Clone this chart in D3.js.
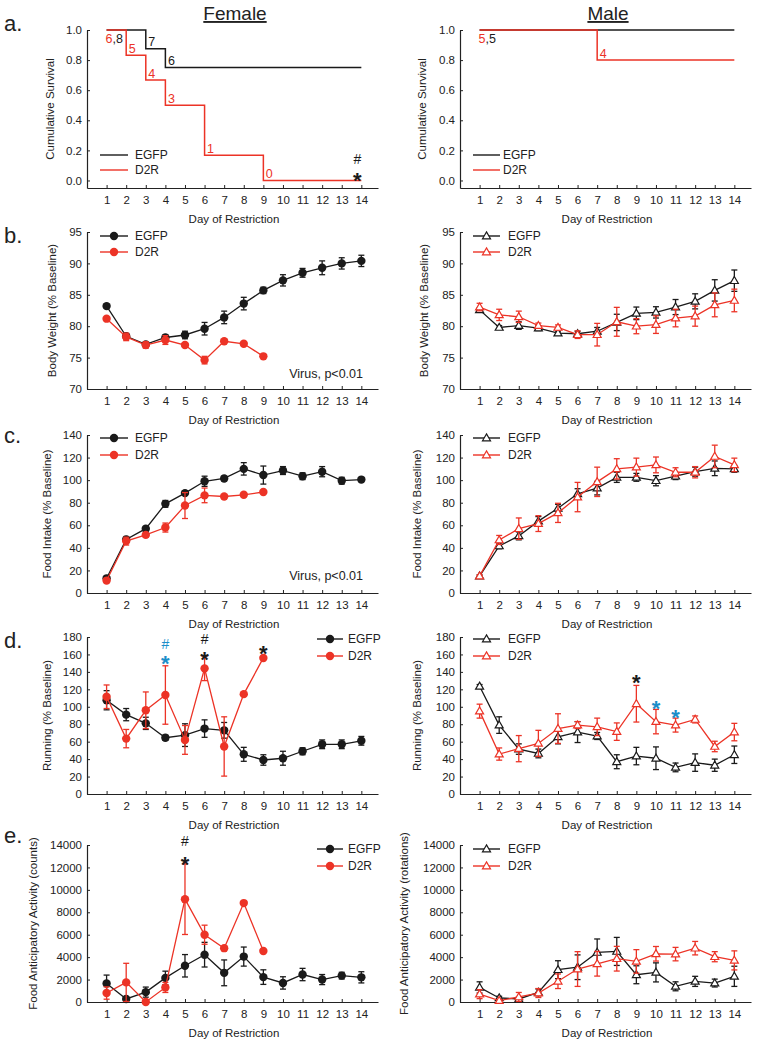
<!DOCTYPE html>
<html><head><meta charset="utf-8">
<script src="https://cdn.jsdelivr.net/npm/d3@7"></script>
<style>
body{margin:0;background:#fff}
svg{display:block}
text{font-family:"Liberation Sans",Arial,sans-serif}
</style>
</head><body>
<svg id="chart" width="771" height="1050"></svg>
<script>
// ---------------- DATA ----------------
const days = [1,2,3,4,5,6,7,8,9,10,11,12,13,14];
const groups = ["EGFP","D2R"];
const sexes = ["Female","Male"];
const xTitle = "Day of Restriction";

// a. Cumulative survival (value per day, step after)
const survFemaleEGFP = [1,1,0.875,0.75,0.75,0.75,0.75,0.75,0.75,0.75,0.75,0.75,0.75,0.75];
const survFemaleD2R  = [1,0.833,0.667,0.5,0.5,0.167,0.167,0.167,0,0,0,0,0,0];
const survMaleEGFP   = [1,1,1,1,1,1,1,1,1,1,1,1,1,1];
const survMaleD2R    = [1,1,1,1,1,1,0.8,0.8,0.8,0.8,0.8,0.8,0.8,0.8];
const survTicks = [0,0.2,0.4,0.6,0.8,1.0];
// n labels: [day, value, text, group, placeBelow]
const survLabelsFemale = [
  [1,1,"6","D2R",true],[1,1,",8","EGFP",true],
  [2,0.833,"5","D2R",false],[3,0.875,"7","EGFP",false],
  [3,0.667,"4","D2R",false],[4,0.75,"6","EGFP",false],
  [4,0.5,"3","D2R",false],[6,0.167,"1","D2R",false],[9,0,"0","D2R",false]
];
const survLabelsMale = [
  [1,1,"5","D2R",true],[1,1,",5","EGFP",true],[7,0.8,"4","D2R",false]
];

// b. Body weight (% baseline)
const bwTicks = [70,75,80,85,90,95];
const bwFemaleEGFP    = [83.2,78.4,77.1,78.2,78.6,79.6,81.4,83.6,85.7,87.3,88.5,89.3,90.0,90.4];
const bwFemaleEGFPsem = [0.3,0.3,0.3,0.4,0.6,1.0,1.0,1.0,0.5,0.9,0.7,1.1,0.9,0.9];
const bwFemaleD2R     = [81.2,78.3,77.0,77.8,77.0,74.6,77.6,77.2,75.2];
const bwFemaleD2Rsem  = [0.2,0.6,0.5,0.7,0.2,0.6,0,0,0];
const bwMaleEGFP      = [82.6,79.8,80.1,79.7,78.9,78.8,79.2,80.6,82.05,82.2,83.05,83.96,85.7,87.25];
const bwMaleEGFPsem   = [0.3,0.3,0.6,0.4,0.2,0.4,0.6,1.3,1.0,0.9,1.2,1.2,1.7,1.7];
const bwMaleD2R       = [83.05,81.8,81.5,80.1,79.8,78.65,78.65,80.7,80.0,80.25,81.3,81.6,83.4,84.1];
const bwMaleD2Rsem    = [0.6,0.9,0.9,0.4,0.4,0.6,1.8,2.3,1.2,1.4,1.4,1.6,1.9,1.8];

// c. Food intake (% baseline)
const fiTicks = [0,20,40,60,80,100,120,140];
const fiFemaleEGFP    = [13,47.5,57,79,88.5,99,101.5,110,104.5,108.5,103.5,107.5,99.5,100.5];
const fiFemaleEGFPsem = [1.5,2.5,2,3,2,4.5,2,5.5,8,3.5,3,4.5,3,1.5];
const fiFemaleD2R     = [11,46,51.5,58,77.5,86.5,85.5,87,89.5];
const fiFemaleD2Rsem  = [1.5,3.5,2,4,11.5,6.5,0,0,0];
const fiMaleEGFP      = [15,41.7,50.6,63.7,75.1,87.9,92.9,102.5,102.5,99.5,103.5,107.5,110.5,110];
const fiMaleEGFPsem   = [1,2.5,3.5,4,3.5,4.5,6,4.5,3.5,4.5,3,4,6.5,3];
const fiMaleD2R       = [15,47,57,61.5,71,85,98.5,110,111.5,113.5,107,107,121,113.5];
const fiMaleD2Rsem    = [1,4,9.5,7,8.5,13,13,9,8,7,4,5,10,6];

// d. Running (% baseline)
const runTicks = [0,20,40,60,80,100,120,140,160,180];
const runFemaleEGFP    = [107.5,91,81,64.5,67.5,75,73,45.5,39,41,49,57,57,61];
const runFemaleEGFPsem = [11,7,7,3,13,10,9,8,6,8,4,5,5,5];
const runFemaleD2R     = [111.5,63.5,96,113.5,62,144,54.5,114.5,156];
const runFemaleD2Rsem  = [13.5,10.5,21,33.5,16.5,14,34,0,0];
const runMaleEGFP      = [123.5,79,51.5,46.5,65.5,71,66.5,37,43.5,41,30.5,36,33,45];
const runMaleEGFPsem   = [2,9.5,6,5,8,12,4,8,10,13,5,10,7,10];
const runMaleD2R       = [95,45.8,52,58,75,79,77,71.5,103.5,83,79,85.5,54.5,71];
const runMaleD2Rsem    = [8,7,15,15,17,4,10,10,21,14,8,4,6,10];

// e. Food anticipatory activity
const faaTicks = [0,2000,4000,6000,8000,10000,12000,14000];
const faaFemaleEGFP    = [1650,270,880,2150,3230,4220,2600,4050,2220,1700,2450,2000,2350,2200];
const faaFemaleEGFPsem = [750,100,450,600,1000,1100,1150,850,650,550,550,450,300,500];
const faaFemaleD2R     = [800,1750,0,1300,9170,6000,4800,8820,4550];
const faaFemaleD2Rsem  = [550,1700,0,450,3150,850,0,0,0];
const faaMaleEGFP      = [1300,360,270,860,2880,3100,4420,4510,2430,2640,1400,1840,1690,2290];
const faaMaleEGFPsem   = [500,150,150,300,800,1100,1200,1250,800,850,400,450,350,900];
const faaMaleD2R       = [700,120,450,800,1850,2940,3410,3860,3620,4300,4270,4800,4040,3710];
const faaMaleD2Rsem    = [400,100,400,400,650,1550,1100,1100,1050,650,600,600,450,850];

// significance marks: [day, value (glyph centre), symbol, colour key]
const sigSurvFemale = [[14,0.14,"#","k"],[14,0.03,"*","k"]];
const sigRunFemale  = [[4,172,"#","b"],[4,155,"*","b"],[6,177.7,"#","k"],[6,159.5,"*","k"],[9,167,"*","k"]];
const sigRunMale    = [[9,133,"*","k"],[10,104,"*","b"],[11,94,"*","b"]];
const sigFaaFemale  = [[5,14350,"#","k"],[5,12750,"*","k"]];
const statNote = "Virus, p<0.01";

// ---------------- DRAWING ----------------
const RED = "#ec3326", BLACK = "#1a1a1a", BLUE = "#1b8ec9", INK = "#222";
const colour = {EGFP: BLACK, D2R: RED, k: BLACK, b: BLUE};
const svg = d3.select("#chart");
const colRange = {Female:[87,378], Male:[460,751]};
const xOf = sex => d3.scaleLinear().domain([0,14.85]).range(colRange[sex]);

function styleAxis(g){
  g.attr("font-family", null).attr("font-size", null);
  g.selectAll(".domain").attr("stroke", INK).attr("stroke-width", 1.2);
  g.selectAll(".tick line").attr("stroke", INK).attr("stroke-width", 1);
  g.selectAll(".tick text").attr("fill", INK).style("font-size","11.5px");
}
function drawAxes(x, y, yTicks, fmt){
  const ya = d3.axisLeft(y).tickValues(yTicks).tickSize(-3).tickSizeOuter(0).tickPadding(5).tickFormat(fmt);
  const xa = d3.axisBottom(x).tickValues(days).tickSize(-3).tickSizeOuter(0).tickPadding(8).tickFormat(d3.format("d"));
  svg.append("g").attr("transform",`translate(${x.range()[0]},0)`).call(ya).call(styleAxis);
  svg.append("g").attr("transform",`translate(0,${y.range()[0]})`).call(xa).call(styleAxis);
  svg.append("text").attr("x", (x(1)+x(14))/2).attr("y", y.range()[0]+35)
    .attr("text-anchor","middle").attr("fill",INK).style("font-size","11.5px").text(xTitle);
}
function yTitle(x, y, off, label){
  const cx = x.range()[0]-off, cy = (y.range()[0]+y.range()[1])/2;
  svg.append("text").attr("transform",`translate(${cx},${cy}) rotate(-90)`)
    .attr("text-anchor","middle").attr("fill",INK).style("font-size","11.5px").text(label);
}
function triPath(s){ const h=s*0.866; return `M0,${-h*2/3}L${s/2},${h/3}L${-s/2},${h/3}Z`; }
function marker(g, cx, cy, shape, col){
  if(shape==="circle") g.append("circle").attr("cx",cx).attr("cy",cy).attr("r",4.2).attr("fill",col);
  else g.append("path").attr("d",triPath(8)).attr("transform",`translate(${cx},${cy+0.5})`)
        .attr("fill","#fff").attr("stroke",col).attr("stroke-width",1.2);
}
function legend(x1,x2,tx,y1,y2,shape){
  groups.forEach((grp,i)=>{
    const yy = i===0?y1:y2, col = colour[grp];
    svg.append("line").attr("x1",x1).attr("x2",x2).attr("y1",yy).attr("y2",yy).attr("stroke",col).attr("stroke-width",1.4);
    if(shape) marker(svg,(x1+x2)/2,yy,shape,col);
    svg.append("text").attr("x",tx).attr("y",yy).attr("dy","0.36em").attr("fill",INK).style("font-size","12px").text(grp);
  });
}
function series(x, y, vals, sem, grp, shape){
  const col = colour[grp];
  const g = svg.append("g");
  const pts = vals.map((v,i)=>({d:days[i], v, e:sem[i]}));
  g.append("path").datum(pts).attr("fill","none").attr("stroke",col).attr("stroke-width",1.3)
    .attr("d", d3.line().x(p=>x(p.d)).y(p=>y(p.v)));
  pts.filter(p=>p.e>0).forEach(p=>{
    const xx=x(p.d), t=y(p.v+p.e), b=y(Math.max(p.v-p.e, y.domain()[0]));
    g.append("line").attr("x1",xx).attr("x2",xx).attr("y1",t).attr("y2",b).attr("stroke",col).attr("stroke-width",1.3);
    [t,b].forEach(yy=>g.append("line").attr("x1",xx-3).attr("x2",xx+3).attr("y1",yy).attr("y2",yy).attr("stroke",col).attr("stroke-width",1.3));
  });
  pts.forEach(p=>marker(g, x(p.d), y(p.v), shape, col));
}
function sigMarks(x, y, marks){
  marks.forEach(([d,v,sym,c])=>{
    const t = svg.append("text").attr("x",x(d)).attr("text-anchor","middle").attr("fill",colour[c]).text(sym);
    if(sym==="*") t.attr("y", y(v)+12.5).style("font-size","22px").style("font-weight","bold");
    else t.attr("y", y(v)+5).style("font-size","14px");
  });
}
function letter(txt, yy){
  svg.append("text").attr("x",4).attr("y",yy).attr("fill",INK).style("font-size","22px").text(txt);
}

// titles
[["Female",235],["Male",608]].forEach(([t,cx])=>{
  svg.append("text").attr("x",cx).attr("y",20).attr("text-anchor","middle").attr("fill",INK)
    .style("font-size","19px").style("text-decoration","underline").text(t);
});

// ---- a. survival ----
const survData = {Female:[survFemaleEGFP,survFemaleD2R], Male:[survMaleEGFP,survMaleD2R]};
const survLabels = {Female:survLabelsFemale, Male:survLabelsMale};
sexes.forEach(sex=>{
  const x = xOf(sex), y = d3.scaleLinear().domain([-0.05,1]).range([188,30]);
  drawAxes(x, y, survTicks, d3.format(".1f"));
  yTitle(x, y, sex==="Female"?33:34, "Cumulative Survival");
  groups.forEach((grp,gi)=>{
    const vals = survData[sex][gi];
    svg.append("path").datum(vals).attr("fill","none").attr("stroke",colour[grp]).attr("stroke-width",1.5)
      .attr("d", d3.line().curve(d3.curveStepAfter).x((v,i)=>x(days[i])).y(v=>y(v)));
  });
  const below = survLabels[sex].filter(l=>l[4]);
  if(below.length){
    const t = svg.append("text").attr("x", x(below[0][0])-1).attr("y", y(below[0][1])+12.5).style("font-size","12.5px");
    below.forEach(l=>t.append("tspan").attr("fill",colour[l[3]]).text(l[2]));
  }
  survLabels[sex].filter(l=>!l[4]).forEach(l=>{
    svg.append("text").attr("x", x(l[0])+2.5).attr("y", y(l[1])-2.5).attr("fill",colour[l[3]]).style("font-size","12.5px").text(l[2]);
  });
  if(sex==="Female"){ legend(100,128,135,155,170,null); sigMarks(d3.scaleLinear().domain([0,14.85]).range([83,374]), y, sigSurvFemale); }
  else legend(473,500,503,155,170,null);
});
letter("a.", 31);

// ---- b-e ----
const rows = [
  {L:"b.", ly:243, top:232, bot:389, dom:[70,95], ticks:bwTicks, fmt:d3.format("d"), label:"Body Weight (% Baseline)",
   data:{Female:[bwFemaleEGFP,bwFemaleEGFPsem,bwFemaleD2R,bwFemaleD2Rsem], Male:[bwMaleEGFP,bwMaleEGFPsem,bwMaleD2R,bwMaleD2Rsem]},
   off:{Female:31,Male:32}, leg:{Female:[100,128,135,236,252], Male:[473,500,508,236,252]}, note:378},
  {L:"c.", ly:443, top:435, bot:593, dom:[0,140], ticks:fiTicks, fmt:d3.format("d"), label:"Food Intake (% Baseline)",
   data:{Female:[fiFemaleEGFP,fiFemaleEGFPsem,fiFemaleD2R,fiFemaleD2Rsem], Male:[fiMaleEGFP,fiMaleEGFPsem,fiMaleD2R,fiMaleD2Rsem]},
   off:{Female:36,Male:39}, leg:{Female:[100,128,135,438,455], Male:[473,500,508,438,455]}, note:580},
  {L:"d.", ly:648, top:637, bot:794, dom:[0,180], ticks:runTicks, fmt:d3.format("d"), label:"Running (% Baseline)",
   data:{Female:[runFemaleEGFP,runFemaleEGFPsem,runFemaleD2R,runFemaleD2Rsem], Male:[runMaleEGFP,runMaleEGFPsem,runMaleD2R,runMaleD2Rsem]},
   off:{Female:36,Male:39}, leg:{Female:[317,343,348,639,656], Male:[473,500,508,639,656]},
   sig:{Female:sigRunFemale, Male:sigRunMale}},
  {L:"e.", ly:843, top:845, bot:1002, dom:[0,14000], ticks:faaTicks, fmt:d3.format("d"),
   label:{Female:"Food Anticipatory Activity (counts)", Male:"Food Anticipatory Activity (rotations)"},
   data:{Female:[faaFemaleEGFP,faaFemaleEGFPsem,faaFemaleD2R,faaFemaleD2Rsem], Male:[faaMaleEGFP,faaMaleEGFPsem,faaMaleD2R,faaMaleD2Rsem]},
   off:{Female:50,Male:52}, leg:{Female:[317,343,348,849,866], Male:[473,500,508,849,866]},
   sig:{Female:sigFaaFemale, Male:[]}}
];
rows.forEach(r=>{
  sexes.forEach(sex=>{
    const x = xOf(sex), y = d3.scaleLinear().domain(r.dom).range([r.bot, r.top]);
    drawAxes(x, y, r.ticks, r.fmt);
    yTitle(x, y, r.off[sex], typeof r.label==="string" ? r.label : r.label[sex]);
    const shape = sex==="Female" ? "circle" : "triangle";
    const [ev,es,dv,ds] = r.data[sex];
    series(x, y, ev, es, "EGFP", shape);
    series(x, y, dv, ds, "D2R", shape);
    const lg = r.leg[sex];
    legend(lg[0],lg[1],lg[2],lg[3],lg[4],shape);
    if(r.note && sex==="Female")
      svg.append("text").attr("x",363).attr("y",r.note).attr("text-anchor","end").attr("fill",INK).style("font-size","12.5px").text(statNote);
    if(r.sig) sigMarks(x, y, r.sig[sex]);
  });
  letter(r.L, r.ly);
});
</script>
</body></html>
